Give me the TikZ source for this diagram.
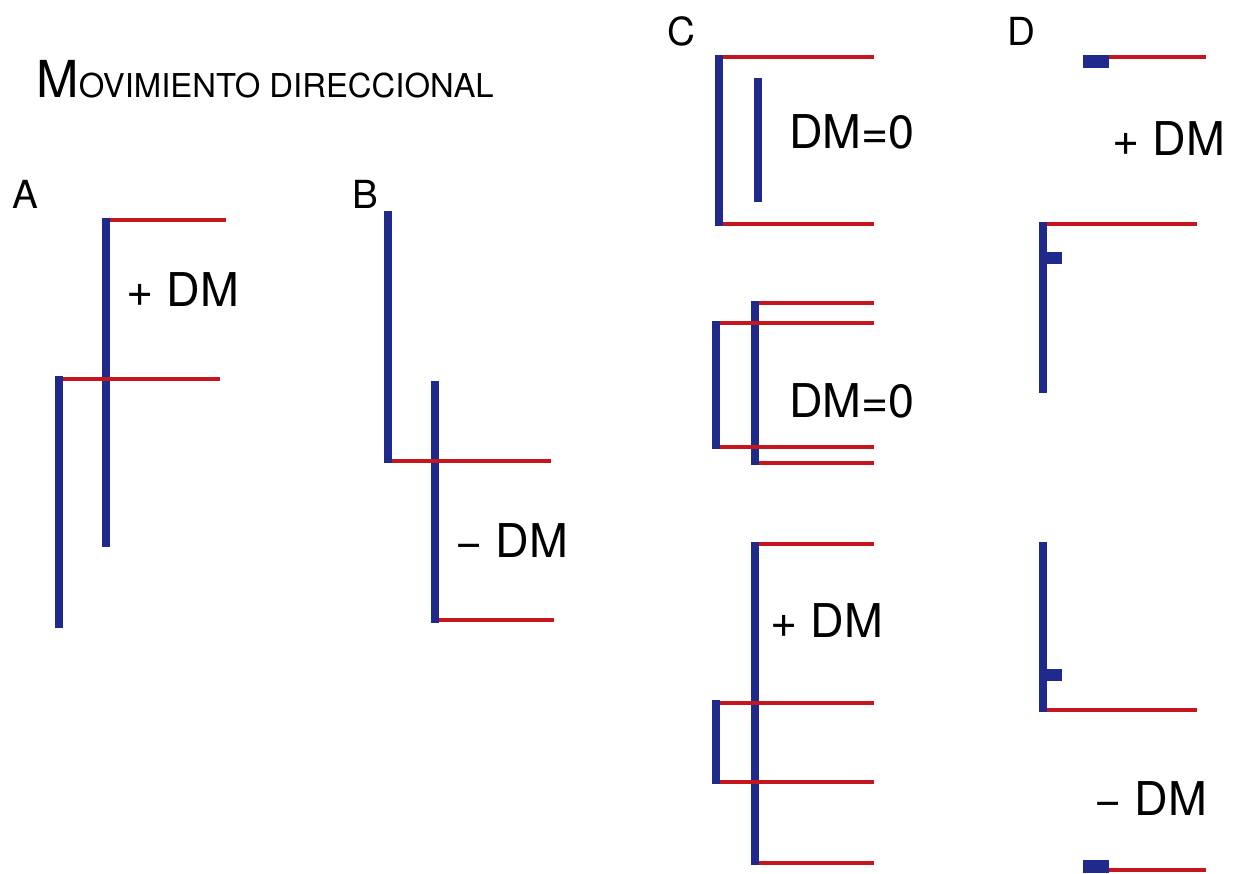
\documentclass[tikz,border=0pt]{standalone}
\usepackage{fontspec}
\setmainfont{TeX Gyre Heros}
\usetikzlibrary{positioning}
\definecolor{dmblue}{HTML}{1F2A8C}
\definecolor{dmred}{HTML}{C4161C}

\begin{document}
\begin{tikzpicture}[
  x=0.02cm, y=-0.02cm,
  every node/.style={inner sep=0pt,anchor=base west},
  lineage/.style={draw=dmblue,line width=4.55pt},
  branch/.style={draw=dmred,line width=2.28pt},
  stub/.style={fill=dmblue},
  dmlabel/.style={font=\fontsize{26.5}{30}\selectfont},
  panel/.style={font=\fontsize{22}{26}\selectfont}
]
\useasboundingbox (0,0) rectangle (1237,873);

\node (title) at (36,97) {{\fontsize{29}{32}\selectfont M}{\fontsize{18.7}{22}\selectfont OVIMIENTO DIRECCIONAL}};
\node[panel] (pa) at (12,208) {A};
\node[panel] (pb) at (352,208) {B};
\node[panel] (pc) at (667,45) {C};
\node[panel] (pd) at (1007,45) {D};

% A
\draw[lineage] (106,218) -- (106,547);
\draw[lineage] (59,376) -- (59,628);
\draw[branch] (110,220) -- (226,220);
\draw[branch] (63,379) -- (220,379);
\node[dmlabel] (dma) at (126,306) {+ DM};

% B
\draw[lineage] (388,211) -- (388,463);
\draw[lineage] (435,381) -- (435,623);
\draw[branch] (392,461) -- (551,461);
\draw[branch] (439,620) -- (554,620);
\node[dmlabel] (dmb) at (455,557) {− DM};

% C, top
\draw[lineage] (719,55) -- (719,226);
\draw[lineage] (758,78) -- (758,202);
\foreach \y in {57,224}
  \draw[branch] (723,\y) -- (874,\y);
\node[dmlabel] (dmc1) at (789,148) {DM=0};

% C, middle
\draw[lineage] (716,321) -- (716,449);
\draw[lineage] (755,301) -- (755,465);
\foreach \y in {323,447}
  \draw[branch] (720,\y) -- (874,\y);
\foreach \y in {303,463}
  \draw[branch] (759,\y) -- (874,\y);
\node[dmlabel] (dmc2) at (789,417) {DM=0};

% C, bottom
\draw[lineage] (755,542) -- (755,865);
\draw[lineage] (716,700) -- (716,784);
\foreach \y in {703,782}
  \draw[branch] (720,\y) -- (874,\y);
\foreach \y in {544,863}
  \draw[branch] (759,\y) -- (874,\y);
\node[dmlabel] (dmc3) at (770,637) {+ DM};

% D
\fill[stub] (1083,55) rectangle (1109,68);
\draw[branch] (1109,57) -- (1206,57);
\node[dmlabel] (dmd1) at (1112,155) {+ DM};
\draw[lineage] (1043,222) -- (1043,393);
\fill[stub] (1043,252) rectangle (1062,264);
\draw[branch] (1047,224) -- (1197,224);
\draw[lineage] (1043,542) -- (1043,712);
\fill[stub] (1043,669) rectangle (1062,681);
\draw[branch] (1047,710) -- (1197,710);
\node[dmlabel] (dmd2) at (1094,815) {− DM};
\fill[stub] (1083,860) rectangle (1109,873);
\draw[branch] (1109,870) -- (1206,870);
\end{tikzpicture}
\end{document}
